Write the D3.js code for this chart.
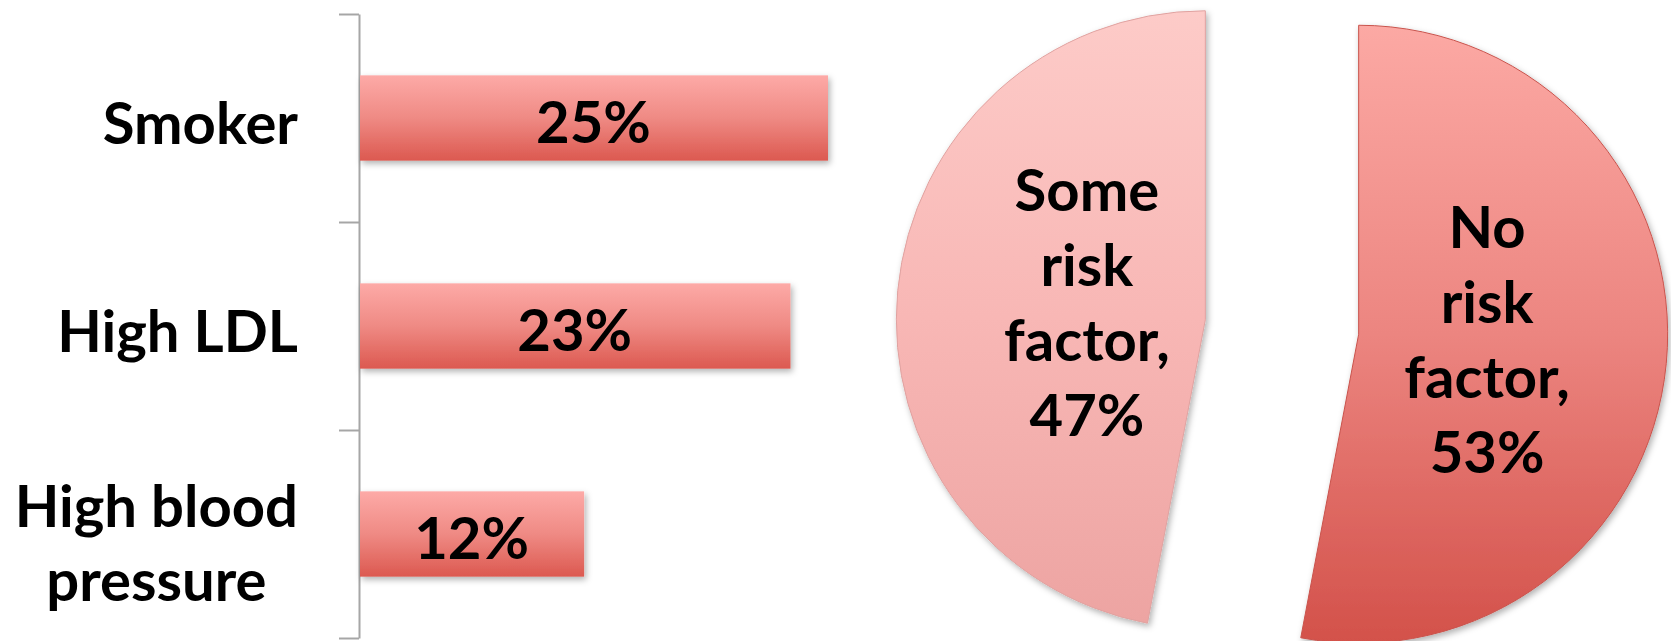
<!DOCTYPE html>
<html>
<head>
<meta charset="utf-8">
<script src="https://cdn.jsdelivr.net/npm/d3@7"></script>
<style>
  html, body { margin: 0; padding: 0; background: #ffffff; }
  svg { display: block; }
  text { font-family: Lato, "Open Sans", sans-serif; font-weight: 700; fill: #000; }
</style>
</head>
<body>
<svg id="chart" width="1671" height="641"></svg>
<script>
// ---- data ----
const barCategories = [["Smoker"], ["High LDL"], ["High blood", "pressure"]];
const barValues = [25, 23, 12];
const barLabels = ["25%", "23%", "12%"];

const pieCategories = [["No", "risk", "factor,", "53%"], ["Some", "risk", "factor,", "47%"]];
const pieValues = [53, 47];

// ---- setup ----
const svg = d3.select("#chart");
const defs = svg.append("defs");
const FS = 58;

const barGrad = defs.append("linearGradient").attr("id", "barGrad")
  .attr("x1", 0).attr("y1", 0).attr("x2", 0).attr("y2", 1);
barGrad.append("stop").attr("offset", "0%").attr("stop-color", "#fdaaa7");
barGrad.append("stop").attr("offset", "50%").attr("stop-color", "#ef8a84");
barGrad.append("stop").attr("offset", "100%").attr("stop-color", "#dc5950");

const pieGradStops = [
  [["0%", "#fca9a4"], ["50%", "#ec8580"], ["100%", "#d3514a"]],
  [["0%", "#fdcbc8"], ["50%", "#f8b7b5"], ["100%", "#eda4a2"]]
];
pieGradStops.forEach((stops, i) => {
  const g = defs.append("linearGradient").attr("id", "pieGrad" + i)
    .attr("x1", 0).attr("y1", 0).attr("x2", 0).attr("y2", 1);
  stops.forEach(s => g.append("stop").attr("offset", s[0]).attr("stop-color", s[1]));
});

const shadow = defs.append("filter").attr("id", "shadow")
  .attr("x", "-10%").attr("y", "-10%").attr("width", "130%").attr("height", "130%");
shadow.append("feDropShadow").attr("dx", 2).attr("dy", 3).attr("stdDeviation", 3)
  .attr("flood-color", "#000").attr("flood-opacity", 0.3);

// ---- bar chart ----
const axisX = 359, axisTop = 14, axisBottom = 638;
const x = d3.scaleLinear().domain([0, 25]).range([axisX, 828]);
const y = d3.scaleBand().domain(d3.range(barValues.length))
  .range([axisTop, axisBottom]).paddingInner(0.59).paddingOuter(0.295);

const tickScale = d3.scaleLinear().domain([0, barValues.length]).range([axisTop, axisBottom]);
const axisG = svg.append("g").attr("transform", `translate(${axisX},0)`)
  .call(d3.axisLeft(tickScale).tickValues(d3.range(barValues.length + 1))
    .tickSize(20).tickSizeOuter(0).tickFormat(""));
axisG.selectAll("path, line").attr("stroke", "#a6a6a6").attr("stroke-width", 2);

svg.append("g").selectAll("rect").data(barValues).join("rect")
  .attr("x", axisX + 1)
  .attr("y", (d, i) => y(i))
  .attr("width", d => x(d) - axisX - 1)
  .attr("height", y.bandwidth())
  .attr("fill", "url(#barGrad)")
  .attr("filter", "url(#shadow)");

svg.append("g").selectAll("text").data(barLabels).join("text")
  .attr("x", (d, i) => (axisX + x(barValues[i])) / 2)
  .attr("y", (d, i) => y(i) + y.bandwidth() / 2 + 25)
  .attr("text-anchor", "middle")
  .attr("font-size", FS)
  .text(d => d);

const catG = svg.append("g");
barCategories.forEach((lines, i) => {
  const cy = y(i) + y.bandwidth() / 2;
  const lh = 74;
  const n = lines.length;
  const t = catG.append("text").attr("font-size", FS).attr("text-anchor", "middle");
  const spans = lines.map((ln, k) => t.append("tspan")
    .attr("y", cy + 26 + (k - (n - 1) / 2) * lh + (n > 1 ? 4 : 0)).text(ln));
  const widths = spans.map(s => s.node().getComputedTextLength());
  const maxW = d3.max(widths);
  spans.forEach(s => s.attr("x", 298 - maxW / 2));
});

// ---- pie chart ----
const R = 309, explode = 77;
const pieCenter = [1282, 327];
const pie = d3.pie().sort(null).startAngle(0).endAngle(2 * Math.PI);
const arcs = pie(pieValues);
const arc = d3.arc().innerRadius(0).outerRadius(R);

const pieG = svg.append("g").attr("transform", `translate(${pieCenter[0]},${pieCenter[1]})`);
arcs.forEach((a, i) => {
  const mid = (a.startAngle + a.endAngle) / 2;
  const dx = Math.sin(mid) * explode, dy = -Math.cos(mid) * explode;
  const g = pieG.append("g").attr("transform", `translate(${dx},${dy})`);
  g.append("path").attr("d", arc(a))
    .attr("fill", `url(#pieGrad${i})`)
    .attr("stroke", i === 0 ? "#c9534c" : "#e0a2a0")
    .attr("stroke-width", 1)
    .attr("filter", "url(#shadow)");
  const lr = 124;
  const lx = Math.sin(mid) * lr + 5, ly = -Math.cos(mid) * lr - 6;
  const lines = pieCategories[i];
  const lh = 75;
  const t = g.append("text").attr("font-size", FS).attr("text-anchor", "middle");
  lines.forEach((ln, k) => t.append("tspan")
    .attr("x", lx)
    .attr("y", ly + 21 + (k - (lines.length - 1) / 2) * lh)
    .text(ln));
});
</script>
</body>
</html>
